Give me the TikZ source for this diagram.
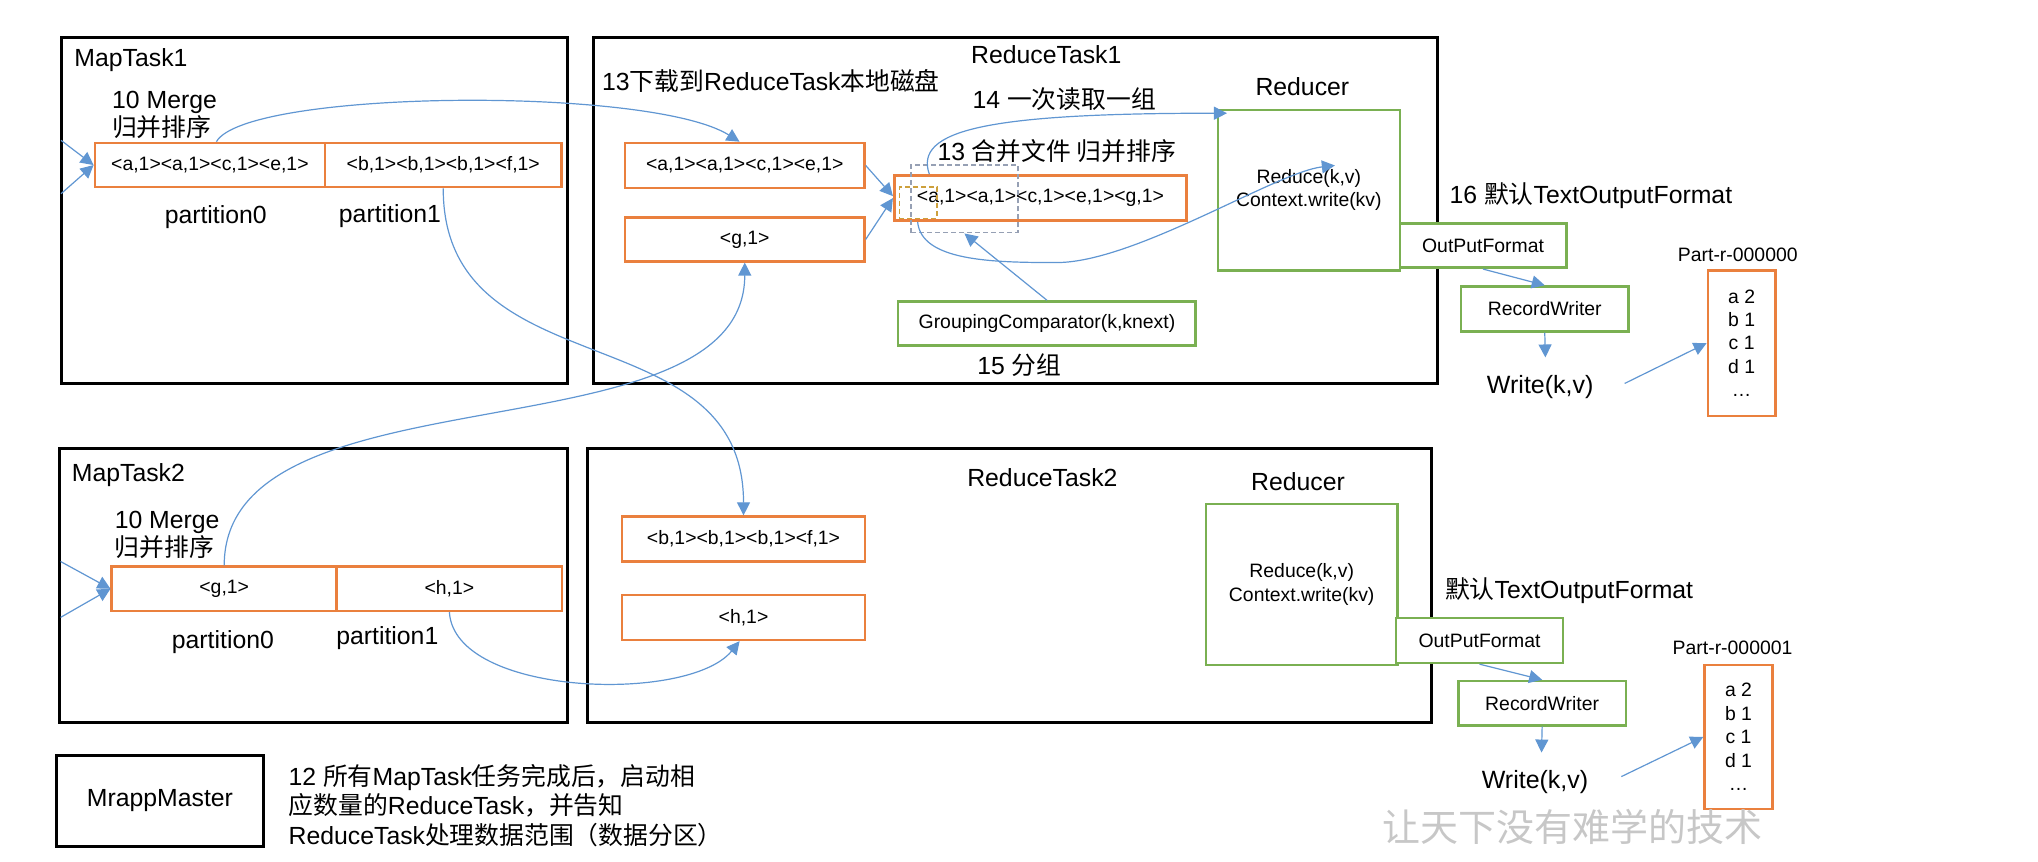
\documentclass[tikz,border=0pt]{standalone}
\usepackage{fontspec}
\setmainfont{Liberation Sans}
\newfontfamily\cjk{Noto Sans CJK SC}
\usetikzlibrary{arrows.meta,calc}
\definecolor{obox}{RGB}{234,128,62}
\definecolor{gbox}{RGB}{122,176,82}
\definecolor{blu}{RGB}{96,150,210}
\definecolor{dgray}{RGB}{150,160,180}
\definecolor{dgold}{RGB}{205,160,60}
\newcommand\zh[1]{{\cjk #1}}
% box from corner (x1,y1) to (x2,y2) in picture units
\newcommand\bx[7]{\node[#1, minimum width={(#5-#3)*0.65pt}, minimum height={(#6-#4)*0.65pt}] (#2) at ({(#3+#5)/2},{(#4+#6)/2}) {#7};}
\begin{document}
\begin{tikzpicture}[x=0.65pt,y=-0.65pt,
  big/.style={font=\fontsize{12.4}{15}\selectfont, inner sep=0pt},
  small/.style={font=\fontsize{9.7}{11.7}\selectfont},
  taskbox/.style={draw=black, line width=1.5pt, inner sep=0pt},
  obx/.style={draw=obox, line width=1.3pt, inner sep=0pt, fill=white, small},
  gbx/.style={draw=gbox, line width=1.3pt, inner sep=0pt, fill=white, small},
  dbx/.style={dashed, line width=0.8pt, inner sep=0pt, dash pattern=on 2.5pt off 1.5pt},
  conn/.style={draw=blu, line width=0.6pt, -{Triangle[length=6.5pt,width=6.5pt]}},
]
\useasboundingbox (0,0) rectangle (1568,663);

% ---------- MapTask1 ----------
\bx{taskbox}{mt1}{47}{28.5}{437}{295}{}
\node[big, anchor=base west] (mt1t) at (57,51.3) {MapTask1};
\node[big, anchor=base west] (mt1m) at (86,83.3) {10 Merge};
\node[big, anchor=base west] (mt1s) at (86,105) {\zh{归并排序}};
\bx{obx}{m1p0}{73}{110}{250}{144}{<a,1><a,1><c,1><e,1>}
\bx{obx}{m1p1}{250}{110}{432}{144}{<b,1><b,1><b,1><f,1>}
\node[big, anchor=base] (m1l0) at (166,171.8) {partition0};
\node[big, anchor=base] (m1l1) at (300,171.5) {partition1};
\coordinate (m1i1) at (47,108);
\coordinate (m1i2) at (47,149);

% ---------- MapTask2 ----------
\bx{taskbox}{mt2}{45.5}{345}{437}{556}{}
\node[big, anchor=base west] (mt2t) at (55,370.5) {MapTask2};
\node[big, anchor=base west] (mt2m) at (88,406.4) {10 Merge};
\node[big, anchor=base west] (mt2s) at (88,428) {\zh{归并排序}};
\bx{obx}{m2p0}{86}{436}{259}{470}{<g,1>}
\bx{obx}{m2p1}{259}{436}{432.5}{470}{<h,1>}
\node[big, anchor=base] (m2l0) at (171.5,498.7) {partition0};
\node[big, anchor=base] (m2l1) at (298,496) {partition1};
\coordinate (m2i1) at (46.6,432);
\coordinate (m2i2) at (46.6,475);

% ---------- MrappMaster ----------
\bx{taskbox,big}{mm}{43.6}{581}{202.5}{651}{MrappMaster}
\node[big, anchor=base west] (n12a) at (221.8,604.4) {12 \zh{所有}MapTask\zh{任务完成后，启动相}};
\node[big, anchor=base west] (n12b) at (221.8,627) {\zh{应数量的}ReduceTask\zh{，并告知}};
\node[big, anchor=base west] (n12c) at (221.8,650) {ReduceTask\zh{处理数据范围（数据分区）}};

% ---------- ReduceTask1 ----------
\bx{taskbox}{rt1}{457}{28.7}{1106}{295}{}
\node[big, anchor=base] (rt1t) at (805,49.2) {ReduceTask1};
\node[big, anchor=base west] (l13a) at (463,69.7) {13\zh{下载到}ReduceTask\zh{本地磁盘}};
\bx{obx}{rA}{481}{110}{665}{144.5}{<a,1><a,1><c,1><e,1>}
\bx{obx}{rG}{481}{167.5}{665}{201}{<g,1>}
\bx{obx}{mg}{688}{135}{913}{169.8}{<a,1><a,1><c,1><e,1><g,1>}
\bx{dbx,draw=dgray}{dg}{701}{127}{783}{179}{}
\bx{dbx,draw=dgold}{dy}{692}{144}{721}{168}{}
\node[big, anchor=base west] (l13b) at (721,123.6) {13 \zh{合并文件 归并排序}};
\node[big, anchor=base west] (l14) at (748,83.3) {14 \zh{一次读取一组}};
\node[big, anchor=base] (red1t) at (1002,73.6) {Reducer};
\bx{gbx,align=center}{red1}{937}{84.6}{1077}{208}{Reduce(k,v)\\Context.write(kv)}
\bx{gbx}{gc}{691}{232}{920}{266}{GroupingComparator(k,knext)}
\node[big, anchor=base west] (l15) at (751.7,288.5) {15 \zh{分组}};

% ---------- output 1 ----------
\node[big, anchor=base west] (l16) at (1115,156.4) {16 \zh{默认}TextOutputFormat};
\bx{gbx}{of1}{1077}{172}{1205}{206}{OutPutFormat}
\bx{gbx}{rw1}{1124}{220.5}{1253}{255}{RecordWriter}
\node[big, anchor=base, font=\fontsize{12.5}{15}\selectfont] (w1) at (1185,302.6) {Write(k,v)};
\node[small, anchor=base, inner sep=0pt] (pt0) at (1337,201.3) {Part-r-000000};
\bx{obx,align=center}{pb0}{1314}{208}{1366}{320}{a 2\\b 1\\c 1\\d 1\\…}

% ---------- ReduceTask2 ----------
\bx{taskbox}{rt2}{452}{345.4}{1101}{556}{}
\node[big, anchor=base] (rt2t) at (802,374.4) {ReduceTask2};
\bx{obx}{rB}{478.6}{397.5}{665.5}{432}{<b,1><b,1><b,1><f,1>}
\bx{obx}{rH}{478.6}{457.7}{665.5}{492.3}{<h,1>}
\node[big, anchor=base] (red2t) at (998.7,377.5) {Reducer};
\bx{gbx,align=center}{red2}{928}{387.7}{1075}{511.5}{Reduce(k,v)\\Context.write(kv)}

% ---------- output 2 ----------
\node[big, anchor=base west] (l16b) at (1111.5,460.3) {\zh{默认}TextOutputFormat};
\bx{gbx}{of2}{1074}{475.6}{1202.6}{510}{OutPutFormat}
\bx{gbx}{rw2}{1122}{524}{1251}{558}{RecordWriter}
\node[big, anchor=base, font=\fontsize{12.5}{15}\selectfont] (w2) at (1181,606.4) {Write(k,v)};
\node[small, anchor=base, inner sep=0pt] (pt1) at (1333,503.9) {Part-r-000001};
\bx{obx,align=center}{pb1}{1311.5}{511.5}{1363.6}{622.5}{a 2\\b 1\\c 1\\d 1\\…}

% ---------- watermark ----------
\node[font=\cjk\fontsize{19}{19}\selectfont, text=black!22, inner sep=0pt] (wm) at (1210,636) {让天下没有难学的技术};

% ---------- connectors ----------
\draw[conn] (m1i1) -- (m1p0.west);
\draw[conn] (m1i2) -- (m1p0.west);
\draw[conn] (m2i1) -- (m2p0.west);
\draw[conn] (m2i2) -- (m2p0.west);
\draw[conn] ($(m1p0.north)+(5,0)$) .. controls +(23,-40) and +(-69,-43) .. ($(rA.north)+(-4,0)$);
\draw[conn] (m1p1.south) .. controls +(0,156) and +(0,-157) .. (rB.north);
\draw[conn] (m2p0.north) .. controls +(0,-156) and +(0,154) .. (rG.south);
\draw[conn] (m2p1.south) .. controls +(4,65) and +(-39,48) .. ($(rH.south)+(-3,0)$);
\draw[conn] (rA.east) -- ($(mg.west)+(0,-1.5)$);
\draw[conn] (rG.east) -- (mg.west);
\draw[conn] ($(mg.north west)+(28,0)$) .. controls +(-12,-34) and +(-185,0) .. ($(red1.north west)+(8,3.5)$);
\coordinate (bend) at (813,202);
\draw[conn] ($(mg.south west)+(19,0)$) .. controls +(3,30) and +(-50,0) .. (bend) .. controls +(60,0) and +(-45,5) .. ($(red1.center)+(20,-19)$);
\draw[conn] (gc.north) -- (dg.south);
\draw[conn] (of1.south) -- (rw1.north);
\draw[conn] (rw1.south) -- ($(w1.base)+(4,-27.6)$);
\draw[conn] ($(w1.base)+(65,-7.6)$) -- (pb0.west);
\draw[conn] (of2.south) -- (rw2.north);
\draw[conn] (rw2.south) -- ($(w2.base)+(5,-27.4)$);
\draw[conn] ($(w2.base)+(66.4,-8.9)$) -- (pb1.west);
\end{tikzpicture}
\end{document}
